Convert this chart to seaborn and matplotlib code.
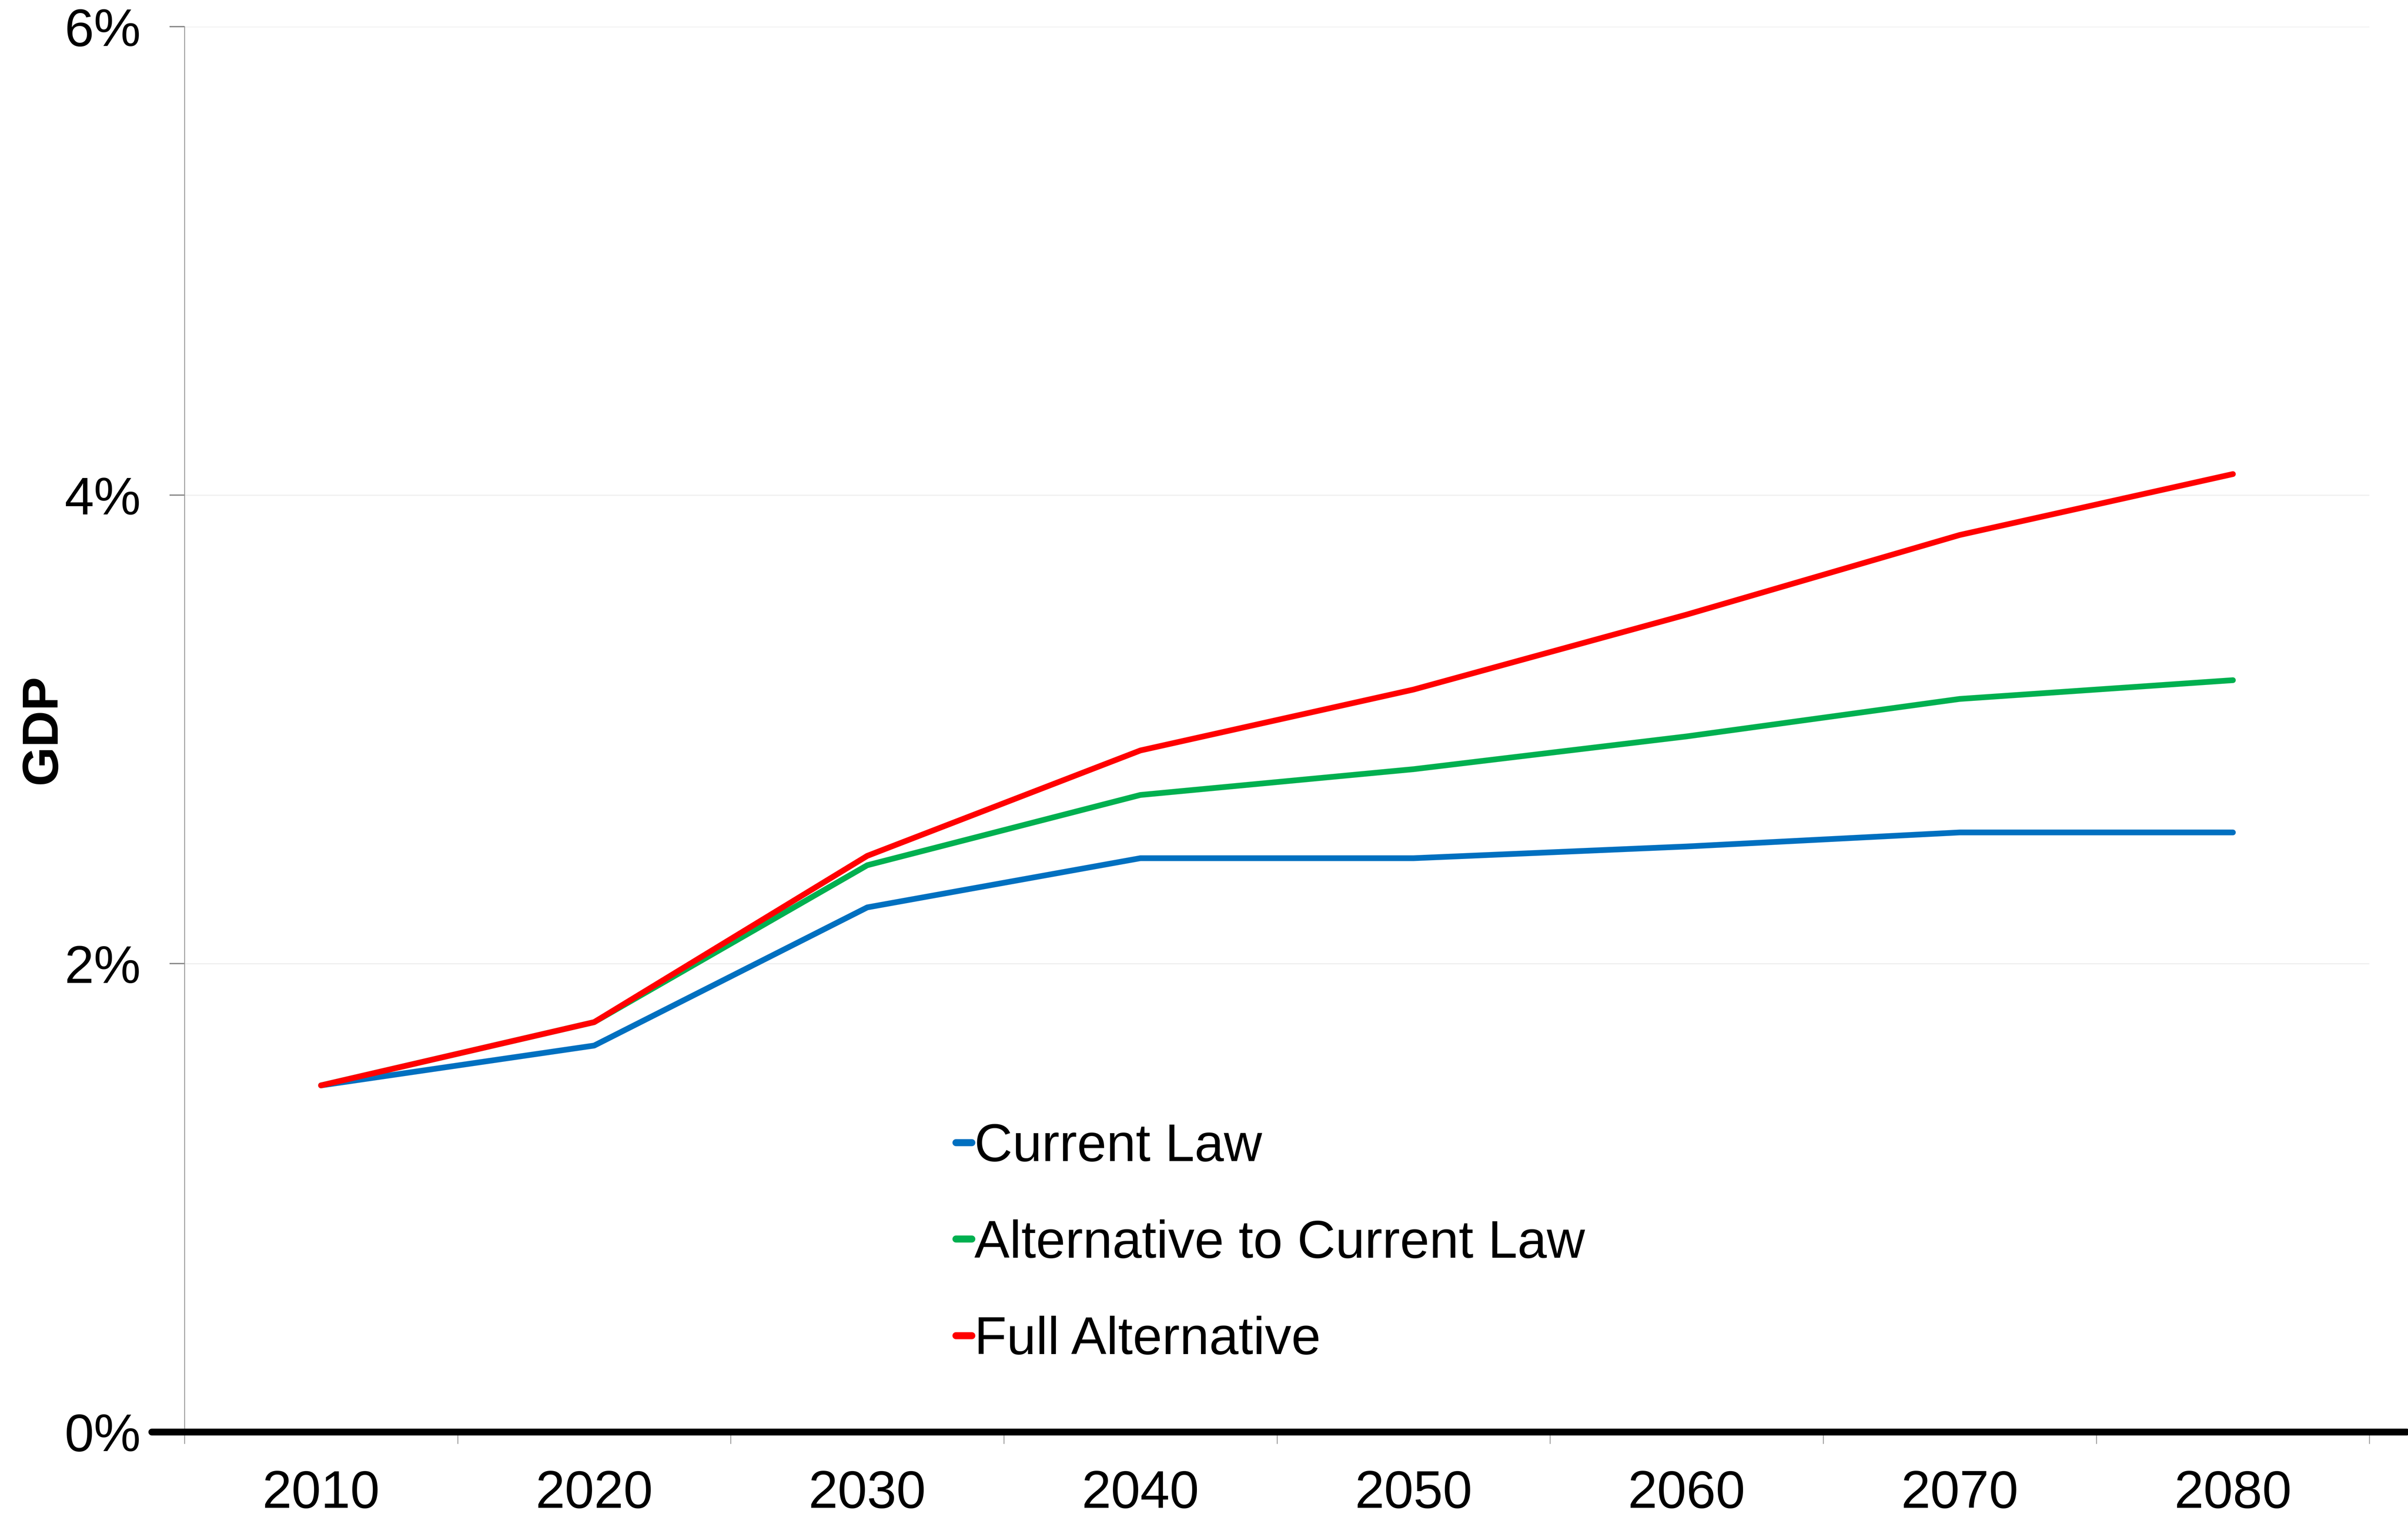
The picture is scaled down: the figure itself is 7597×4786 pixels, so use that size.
import matplotlib
matplotlib.use('Agg')
import matplotlib.pyplot as plt
import seaborn as sns
import pandas as pd
from matplotlib.ticker import FixedLocator, FuncFormatter

# Data (percent of GDP)
years = [2010, 2020, 2030, 2040, 2050, 2060, 2070, 2080]
current_law = [1.48, 1.65, 2.24, 2.45, 2.45, 2.50, 2.56, 2.56]
alt_current_law = [1.48, 1.75, 2.42, 2.72, 2.83, 2.97, 3.13, 3.21]
full_alternative = [1.48, 1.75, 2.46, 2.91, 3.17, 3.49, 3.83, 4.09]

series_names = ['Current Law', 'Alternative to Current Law', 'Full Alternative']
series_colors = ['#0070C0', '#00B050', '#FF0000']
y_ticks = [0, 2, 4, 6]

df = pd.concat([
    pd.DataFrame({'Year': years, 'Value': vals, 'Scenario': name})
    for name, vals in zip(series_names, [current_law, alt_current_law, full_alternative])
])

sns.set_style("white")
plt.rcParams['font.family'] = ['Liberation Sans', 'DejaVu Sans']
plt.rcParams['lines.solid_capstyle'] = 'round'
plt.rcParams['text.color'] = 'black'
plt.rcParams['axes.labelcolor'] = 'black'
plt.rcParams['xtick.color'] = 'black'
plt.rcParams['ytick.color'] = 'black'

fig = plt.figure(figsize=(15.194, 9.572), dpi=500)
ax = fig.add_axes([0.0766, 0.056, 0.9074, 0.9264])

sns.lineplot(data=df, x='Year', y='Value', hue='Scenario',
             palette=dict(zip(series_names, series_colors)),
             hue_order=series_names, linewidth=2.6, ax=ax)

ax.set_xlim(2005, 2085)
ax.set_ylim(0, 6)

# x axis: labels at decades, ticks between them
ax.xaxis.set_major_locator(FixedLocator(years))
ax.xaxis.set_minor_locator(FixedLocator([y - 5 for y in years] + [years[-1] + 5]))
ax.tick_params(axis='x', which='major', length=0, pad=17, labelsize=24,
               labelcolor='black')
ax.tick_params(axis='x', which='minor', length=5.3, width=0.4, color='#999999',
               direction='out', bottom=True)

ax.yaxis.set_major_locator(FixedLocator(y_ticks))
ax.yaxis.set_major_formatter(FuncFormatter(lambda v, p: f'{v:.0f}%'))
ax.tick_params(axis='y', which='major', length=6.8, width=0.6, color='#888888',
               labelcolor='black', direction='out', left=True, pad=13, labelsize=24)

ax.grid(axis='y', color='#EEEEEE', linewidth=0.5)
ax.set_axisbelow(True)

for side in ['top', 'right', 'bottom']:
    ax.spines[side].set_visible(False)
ax.spines['left'].set_color('#999999')
ax.spines['left'].set_linewidth(0.4)

# thick black baseline at 0%
ax.axhline(0, xmin=-0.015, xmax=1.017, color='black', linewidth=3.1,
           clip_on=False, zorder=5)

ax.set_xlabel('')
ax.set_ylabel('GDP', fontsize=23, fontweight='bold', color='black')
ax.yaxis.set_label_coords(-0.054, 0.5)

handles, labels = ax.get_legend_handles_labels()
leg = ax.legend(handles, labels, loc='center left', bbox_to_anchor=(0.397, 0.180),
                bbox_transform=fig.transFigure, frameon=False, fontsize=24,
                handlelength=0.3, handletextpad=0.05, labelspacing=0.89,
                borderpad=0, borderaxespad=0)
for line in leg.get_lines():
    line.set_linewidth(3.2)

plt.savefig('out.png', dpi=500)
